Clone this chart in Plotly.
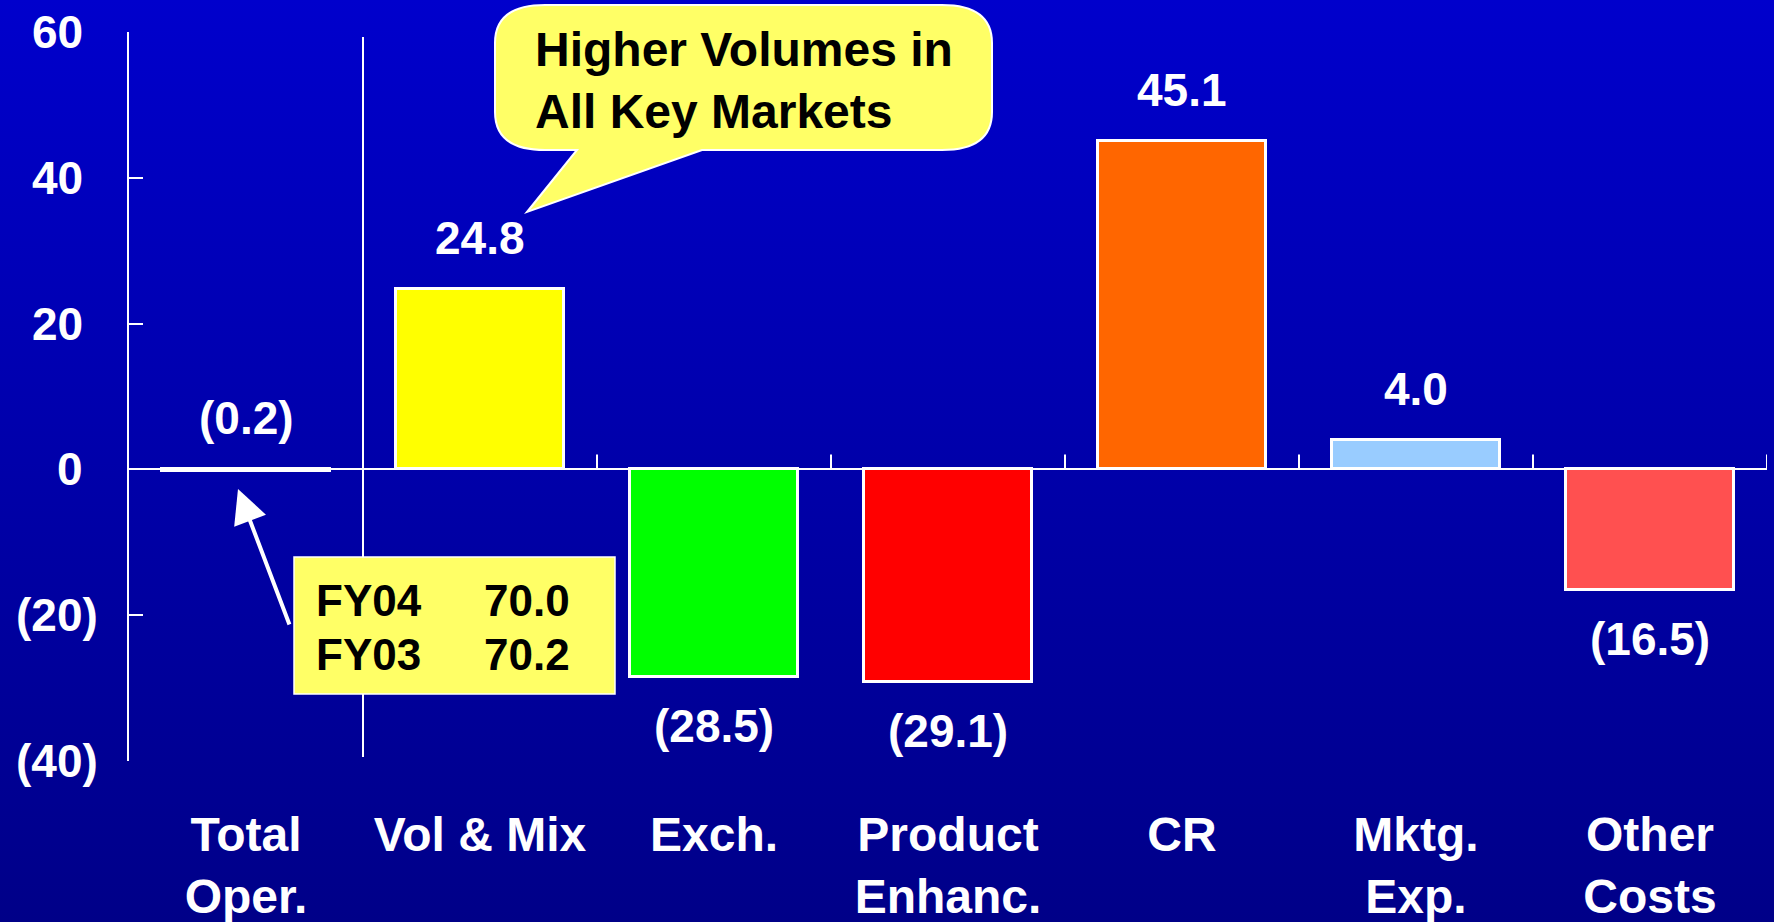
import base64
import plotly.graph_objects as go

# ---- data -------------------------------------------------------------
categories = ["Total<br>Oper.", "Vol & Mix", "Exch.", "Product<br>Enhanc.",
              "CR", "Mktg.<br>Exp.", "Other<br>Costs"]
values = [-0.2, 24.8, -28.5, -29.1, 45.1, 4.0, -16.5]
bar_colors = ["#FFFFFF", "#FFFF00", "#00FF00", "#FF0000",
              "#FF6600", "#99CCFF", "#FF5050"]
y_ticks = [60, 40, 20, 0, -20, -40]
fy_labels = ["FY04", "FY03"]
fy_values = [70.0, 70.2]
callout_lines = ["Higher Volumes in", "All Key Markets"]

# ---- layout geometry ----------------------------------------------------
W, H = 1774, 922
ML, MR, MT, MB = 129, 7, 32, 161
PW, PH = W - ML - MR, H - MT - MB
FONT = "Arial, Liberation Sans, Helvetica, sans-serif"


def px_x(px):
    return (px - ML) / PW


def px_y(py):
    return (H - MB - py) / PH


def fmt(v):
    return f"{v:.1f}" if v >= 0 else f"({-v:.1f})"


def tick_fmt(v):
    return f"{v:d}" if v >= 0 else f"({-v:d})"


# ---- background gradient ------------------------------------------------
svg = ('<svg xmlns="http://www.w3.org/2000/svg" width="10" height="100" '
       'preserveAspectRatio="none"><defs><linearGradient id="g" x1="0" y1="0" '
       'x2="0" y2="1"><stop offset="0" stop-color="#0000CC"/>'
       '<stop offset="1" stop-color="#000088"/></linearGradient></defs>'
       '<rect width="10" height="100" fill="url(#g)"/></svg>')
bg_src = "data:image/svg+xml;base64," + base64.b64encode(svg.encode()).decode()

fig = go.Figure()
fig.add_trace(go.Bar(
    x=list(range(len(categories))), y=values,
    marker=dict(color=bar_colors, line=dict(color="white", width=3)),
    width=0.715, hoverinfo="skip",
))

annotations = []
# value labels
for i, v in enumerate(values):
    above = v > -1
    annotations.append(dict(
        x=i, y=max(v, 0) if above else v, xref="x", yref="y",
        text=fmt(v), showarrow=False, yanchor="middle",
        yshift=51 if above else -49,
        font=dict(family=FONT, size=46, color="white", weight="bold"),
    ))
# y-axis tick labels (accounting style, closing parenthesis hangs right)
for v in y_ticks:
    annotations.append(dict(
        x=0, y=v, xref="paper", yref="y", text=tick_fmt(v), showarrow=False,
        xanchor="right", yanchor="middle", xshift=-44 + (15 if v < 0 else 0),
        font=dict(family=FONT, size=46, color="white", weight="bold"),
    ))
# callout text
annotations.append(dict(
    x=px_x(533), y=px_y(80), xref="paper", yref="paper",
    text="<br>".join(callout_lines), showarrow=False, align="left",
    xanchor="left", yanchor="middle",
    font=dict(family=FONT, size=48, color="black", weight="bold"),
))
# FY box text
for k, (lab, val) in enumerate(zip(fy_labels, fy_values)):
    yy = px_y(600 + 54 * k)
    annotations.append(dict(
        x=px_x(314), y=yy, xref="paper", yref="paper", text=lab,
        showarrow=False, xanchor="left", yanchor="middle",
        font=dict(family=FONT, size=44, color="black", weight="bold")))
    annotations.append(dict(
        x=px_x(482), y=yy, xref="paper", yref="paper", text=f"{val:.1f}",
        showarrow=False, xanchor="left", yanchor="middle",
        font=dict(family=FONT, size=44, color="black", weight="bold")))
# arrow from FY box to the total bar
annotations.append(dict(
    x=px_x(238), y=px_y(489), xref="paper", yref="paper", text="",
    showarrow=True, ax=52, ay=137, arrowhead=2, arrowsize=1.7,
    arrowwidth=4, arrowcolor="white", standoff=0,
))

# callout balloon
x0, x1, y0, y1 = px_x(495), px_x(992), px_y(5), px_y(150)
rx, ry = 50 / PW, 38 / PH
tail = [(px_x(702), y1), (px_x(527), px_y(212)), (px_x(577), y1)]
path = (f"M {x0+rx},{y0} L {x1-rx},{y0} Q {x1},{y0} {x1},{y0-ry} "
        f"L {x1},{y1+ry} Q {x1},{y1} {x1-rx},{y1} "
        f"L {tail[0][0]},{tail[0][1]} L {tail[1][0]},{tail[1][1]} "
        f"L {tail[2][0]},{tail[2][1]} "
        f"L {x0+rx},{y1} Q {x0},{y1} {x0},{y1+ry} L {x0},{y0-ry} "
        f"Q {x0},{y0} {x0+rx},{y0} Z")

shapes = [
    dict(type="path", path=path, xref="paper", yref="paper",
         fillcolor="#FFFF66", line=dict(color="white", width=2), layer="above"),
    dict(type="rect", xref="paper", yref="paper",
         x0=px_x(294), x1=px_x(615), y0=px_y(557), y1=px_y(694),
         fillcolor="#FFFF66", line=dict(color="white", width=1.5), layer="above"),
    # divider between total and components
    dict(type="line", xref="x", yref="paper", x0=0.5, x1=0.5,
         y0=px_y(757), y1=px_y(37), line=dict(color="white", width=2),
         layer="below"),
]
# category boundary ticks on the zero line
for b in range(1, len(categories)):
    shapes.append(dict(type="line", xref="x", yref="y", x0=b + 0.5, x1=b + 0.5,
                       y0=0, y1=15 / (PH / 100), line=dict(color="white", width=2),
                       layer="below"))

fig.update_layout(
    width=W, height=H,
    margin=dict(l=ML, r=MR, t=MT, b=MB, autoexpand=False),
    paper_bgcolor="#0000AA", plot_bgcolor="rgba(0,0,0,0)",
    showlegend=False, bargap=0,
    images=[dict(source=bg_src, xref="paper", yref="paper",
                 x=-ML / PW, y=(H - MB) / PH, sizex=W / PW, sizey=H / PH,
                 xanchor="left", yanchor="top", sizing="stretch",
                 layer="below")],
    xaxis=dict(range=[-0.5, len(categories) - 0.5], tickmode="array",
               tickvals=list(range(len(categories))), ticktext=categories,
               showgrid=False, zeroline=False, showline=False, ticks="",
               ticklabelstandoff=41,
               tickfont=dict(family=FONT, size=48, color="white", weight="bold")),
    yaxis=dict(range=[-40, 60], tickvals=y_ticks, showticklabels=False,
               ticks="inside", ticklen=14, tickwidth=2, tickcolor="white",
               showline=True, linecolor="white", linewidth=2,
               showgrid=False, zeroline=True, zerolinecolor="white",
               zerolinewidth=2),
    annotations=annotations, shapes=shapes,
)

fig.write_html("out.html")
